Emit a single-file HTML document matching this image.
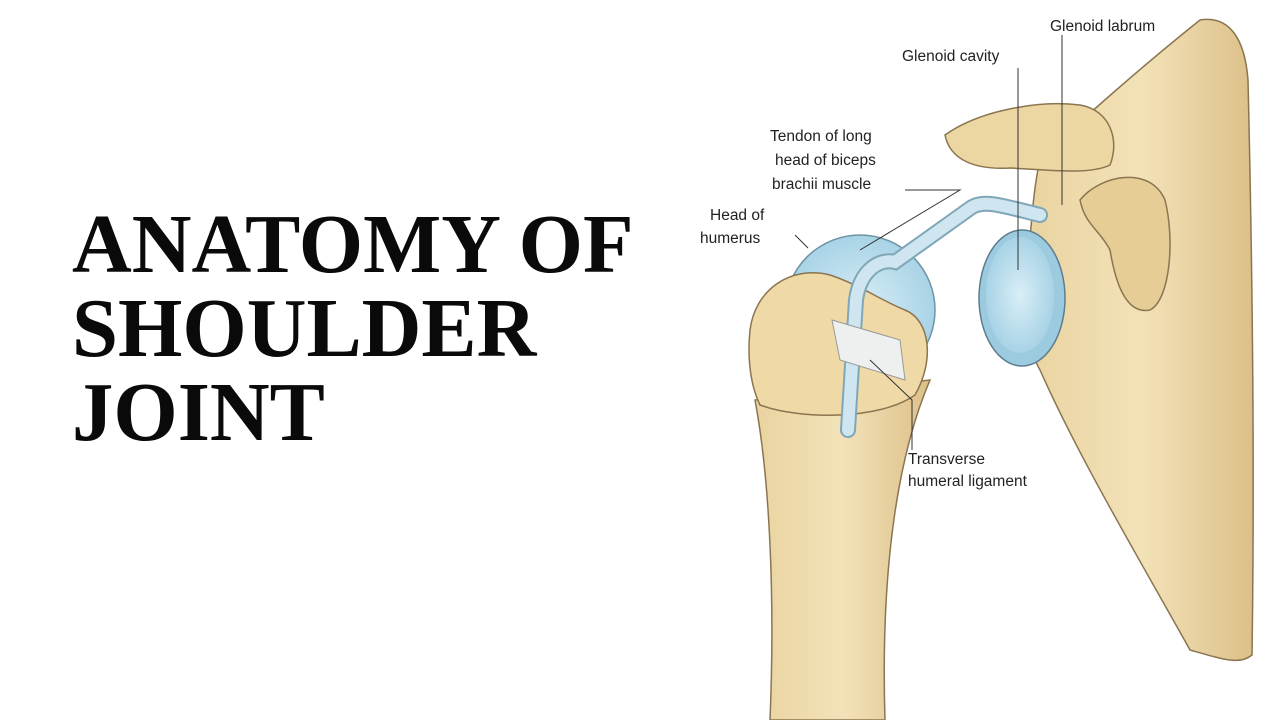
<!DOCTYPE html>
<html><head><meta charset="utf-8"><style>
html,body{margin:0;padding:0;background:#fff;width:1280px;height:720px;overflow:hidden}
.t{position:absolute;left:72px;top:203px;font-family:"Liberation Serif",serif;font-weight:bold;font-size:84px;line-height:84px;color:#0a0a0a;letter-spacing:0px;transform:scaleX(0.985);transform-origin:left top}
svg{position:absolute;left:0;top:0}
text{font-family:"Liberation Sans",sans-serif;font-size:15.5px;fill:#222}
</style></head><body>
<div class="t">ANATOMY OF<br>SHOULDER<br>JOINT</div>
<svg width="1280" height="720" viewBox="0 0 1280 720">
<defs>
<linearGradient id="b" x1="0" x2="1"><stop offset="0" stop-color="#e9d3a0"/><stop offset="0.5" stop-color="#f3e2b8"/><stop offset="1" stop-color="#dcc089"/></linearGradient>
<radialGradient id="bl"><stop offset="0" stop-color="#d9eef7"/><stop offset="1" stop-color="#a8d3e6"/></radialGradient>
</defs>
<path d="M1040,160 C1080,120 1150,60 1200,20 C1230,15 1245,40 1248,80 C1252,250 1255,450 1252,655 C1240,665 1225,660 1190,650 C1140,560 1080,460 1040,370 C1020,340 1030,200 1040,160Z" fill="url(#b)" stroke="#8a7550" stroke-width="1.5"/>
<path d="M1080,200 C1100,175 1150,165 1165,200 C1175,240 1170,300 1150,310 C1125,315 1115,280 1110,250 C1100,230 1085,225 1080,200Z" fill="#e6cd96" stroke="#8a7550" stroke-width="1.5"/>
<path d="M945,135 C980,110 1040,100 1080,105 C1110,110 1120,140 1110,165 C1090,175 1050,170 1010,168 C975,170 950,160 945,135Z" fill="#ecd6a2" stroke="#8a7550" stroke-width="1.5"/>
<ellipse cx="1022" cy="298" rx="43" ry="68" fill="#9ccbe0" stroke="#5d7d8e" stroke-width="1.5"/>
<ellipse cx="1020" cy="295" rx="34" ry="58" fill="url(#bl)"/>
<path d="M770,720 C775,600 770,480 755,400 L930,380 C900,450 880,560 885,720Z" fill="url(#b)" stroke="#8a7550" stroke-width="1.5"/>
<circle cx="860" cy="310" r="75" fill="url(#bl)" stroke="#6e93a5" stroke-width="1.5"/>
<path d="M750,330 C755,290 790,265 830,275 C860,285 880,300 905,310 C930,320 935,360 915,395 C880,420 800,420 760,405 C748,380 748,350 750,330Z" fill="#efd9a6" stroke="#8a7550" stroke-width="1.5"/>
<path d="M848,430 L856,300 C860,270 880,258 895,262 L972,207 C985,200 1000,205 1040,215" fill="none" stroke="#7fa7b8" stroke-width="16" stroke-linecap="round"/>
<path d="M848,430 L856,300 C860,270 880,258 895,262 L972,207 C985,200 1000,205 1040,215" fill="none" stroke="#cfe6f0" stroke-width="12" stroke-linecap="round"/>
<path d="M832,320 L900,340 L905,380 L840,360Z" fill="#eef0f0" stroke="#999" stroke-width="1"/>
<g stroke="#333" stroke-width="1" fill="none">
<path d="M905,190 L960,190 L860,250"/>
<path d="M1018,68 L1018,270"/>
<path d="M1062,35 L1062,205"/>
<path d="M795,235 L808,248"/>
<path d="M870,360 L912,400 L912,450"/>
</g>
<text x="1050" y="31">Glenoid labrum</text>
<text x="902" y="61">Glenoid cavity</text>
<text x="770" y="141">Tendon of long</text>
<text x="775" y="165">head of biceps</text>
<text x="772" y="189">brachii muscle</text>
<text x="710" y="220">Head of</text>
<text x="700" y="243">humerus</text>
<text x="908" y="464">Transverse</text>
<text x="908" y="486">humeral ligament</text>
</svg>
</body></html>
